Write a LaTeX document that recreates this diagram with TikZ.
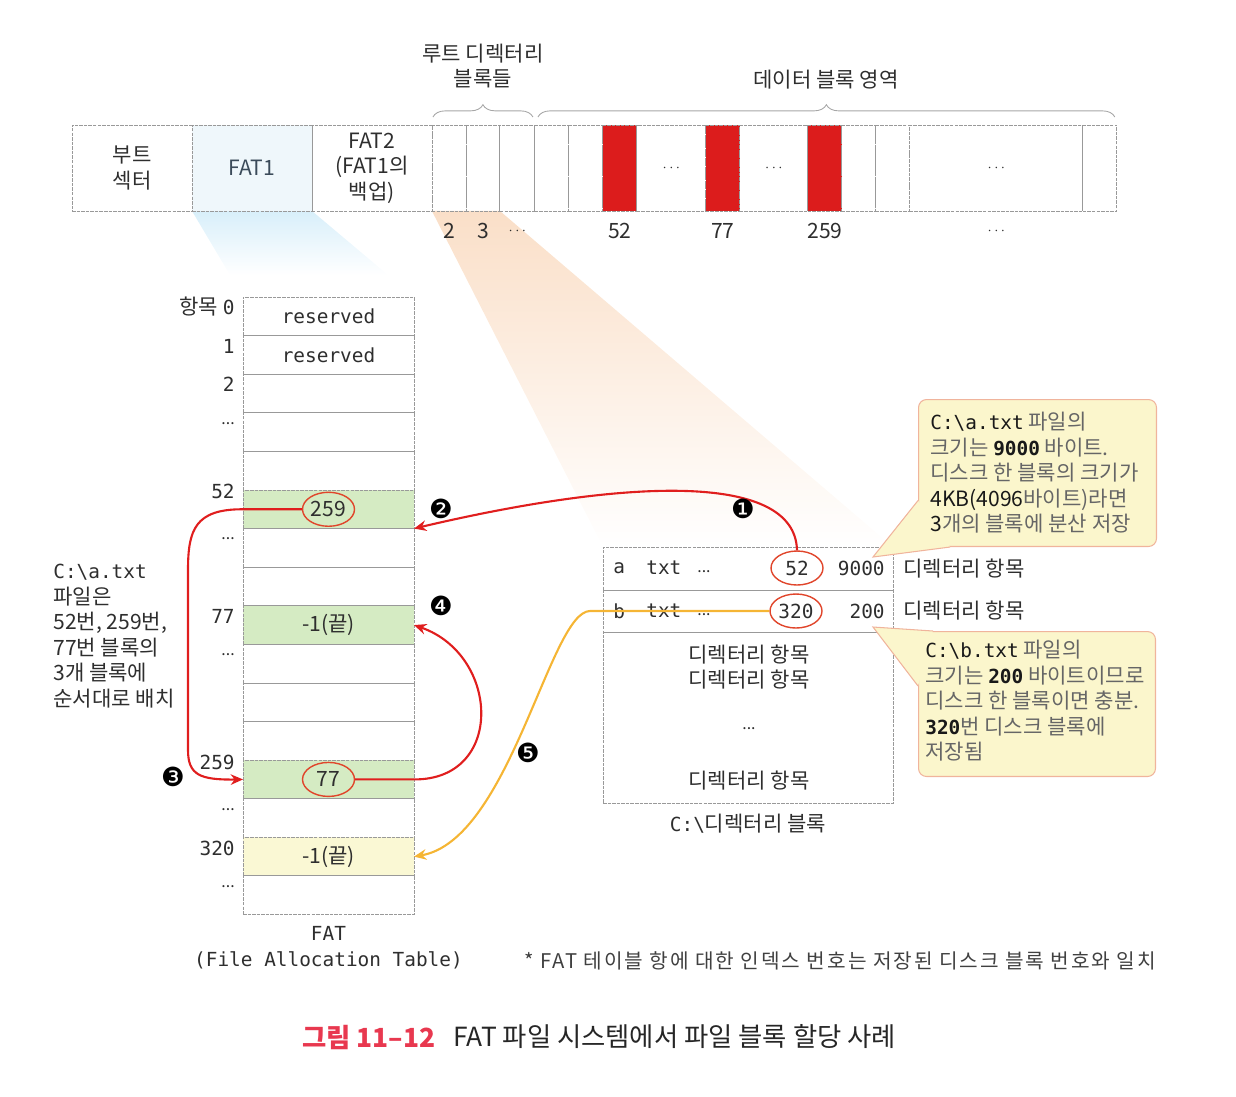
\documentclass[tikz,border=0pt]{standalone}
\usepackage{fontspec}
\setmainfont{Noto Sans CJK KR}
\newfontfamily\monofont{DejaVu Sans Mono}[Scale=0.92]
\newfontfamily\symfont{DejaVu Sans}
\usetikzlibrary{arrows.meta,positioning,shapes.geometric,decorations.pathreplacing,backgrounds}

\definecolor{inkgray}{HTML}{2E2E2E}
\definecolor{arrowred}{HTML}{E01E1E}
\definecolor{ringred}{HTML}{E0452B}
\definecolor{linegold}{HTML}{F5B534}
\definecolor{cellgreen}{HTML}{D5EBC3}
\definecolor{cellyellow}{HTML}{FAF8D4}
\definecolor{notefill}{HTML}{FBF6CC}
\definecolor{noteedge}{HTML}{F0B49C}
\definecolor{blockred}{HTML}{DC1C1C}
\definecolor{capred}{HTML}{E8384F}
\definecolor{fatblue}{HTML}{EFF7FB}
\definecolor{fatink}{HTML}{3B4B5A}
\definecolor{glowblue}{HTML}{D8EFFA}
\definecolor{gloworange}{HTML}{FADFC8}

\newcommand{\inkdark}[1]{{\color{black!90}#1}}
\newcommand{\midots}{{\fontsize{8}{8}\selectfont$\cdots$}}
\newcommand{\lowdots}{{\fontsize{9}{9}\selectfont ...}}

\begin{document}
\begin{tikzpicture}[x=0.02cm, y=-0.02cm, >={Stealth[length=7pt, width=6pt]},
font=\fontsize{12}{14.5}\selectfont, text=inkgray,
cell/.style={draw=black!40, dash pattern=on 2pt off 0.6pt, line width=0.5pt, inner sep=0pt, outer sep=0pt},
blk/.style={cell, minimum height=1.72cm, align=center},
fatrow/.style={cell, minimum width=3.42cm, minimum height=0.772cm},
dirrow/.style={cell, minimum width=5.8cm},
ring/.style={ellipse, draw=ringred, line width=0.8pt, inner sep=0pt, minimum width=1.04cm, minimum height=0.68cm},
plain/.style={inner sep=0pt},
rowlab/.style={plain, anchor=east},
badge/.style={plain, font=\symfont\fontsize{15}{15}\selectfont, text=black},
redline/.style={draw=arrowred, line width=1.2pt},
goldline/.style={draw=linegold, line width=1.2pt},
note/.style={draw=noteedge, fill=notefill, line width=0.6pt, rounded corners=0.16cm, anchor=north west},
notetext/.style={plain, align=left, anchor=west, text=black!60},
tail/.style={draw=noteedge, fill=notefill, line width=0.6pt},
]
\useasboundingbox (0,0) rectangle (1236,1096);

% Disk layout
\node[blk, minimum width=2.4cm] (boot) at (132,168) {부트\\섹터};
\node[blk, minimum width=2.4cm, fill=fatblue, text=fatink, right=0pt of boot] (fat1) {FAT1};
\node[blk, minimum width=2.4cm, right=0pt of fat1] (fat2) {FAT2\\(FAT1의\\백업)};
\node[blk, minimum width=0.68cm, right=0pt of fat2] (b1) {};
\node[blk, minimum width=0.68cm, right=0pt of b1] (b2) {};
\node[blk, minimum width=0.70cm, right=0pt of b2] (b3) {};
\node[blk, minimum width=0.68cm, right=0pt of b3] (b4) {};
\node[blk, minimum width=0.68cm, right=0pt of b4] (b5) {};
\node[blk, minimum width=0.68cm, fill=blockred, right=0pt of b5] (b6) {};
\node[blk, minimum width=1.38cm, right=0pt of b6] (b7) {\midots};
\node[blk, minimum width=0.68cm, fill=blockred, right=0pt of b7] (b8) {};
\node[blk, minimum width=1.36cm, right=0pt of b8] (b9) {\midots};
\node[blk, minimum width=0.68cm, fill=blockred, right=0pt of b9] (b10) {};
\node[blk, minimum width=0.68cm, right=0pt of b10] (b11) {};
\node[blk, minimum width=0.68cm, right=0pt of b11] (b12) {};
\node[blk, minimum width=3.46cm, right=0pt of b12] (b13) {\midots};
\node[blk, minimum width=0.68cm, right=0pt of b13] (b14) {};

% Block numbers
\node[plain, below=0.24cm of b1] (n2) {2};
\node[plain, below=0.24cm of b2] (n3) {3};
\node[plain] (n4) at (b3 |- n2) {\midots};
\node[plain, below=0.24cm of b6] (n52) {52};
\node[plain, below=0.24cm of b8] (n77) {77};
\node[plain, below=0.24cm of b10] (n259) {259};
\node[plain] (nend) at (b13 |- n2) {\midots};

% Braces
\draw[decorate, decoration={brace, amplitude=7pt}, draw=black!35, line width=0.5pt]
  ([xshift=0.02cm, yshift=0.16cm]b1.north west) -- ([xshift=-0.04cm, yshift=0.16cm]b3.north east);
\draw[decorate, decoration={brace, amplitude=7pt}, draw=black!35, line width=0.5pt]
  ([xshift=0.06cm, yshift=0.16cm]b4.north west) -- ([xshift=-0.04cm, yshift=0.16cm]b14.north east);
\node[plain, align=center] (rootlab) at (483,66) {루트 디렉터리\\블록들};
\node[plain] (datalab) at (826,80) {데이터 블록 영역};

% FAT table
\node[fatrow] (f0) at (328.5,316.3) {\monofont reserved};
\node[fatrow, below=0pt of f0] (f1) {\monofont reserved};
\node[fatrow, below=0pt of f1] (f2) {};
\node[fatrow, below=0pt of f2] (f3) {};
\node[fatrow, below=0pt of f3] (f4) {};
\node[fatrow, fill=cellgreen, below=0pt of f4] (f5) {};
\node[fatrow, below=0pt of f5] (f6) {};
\node[fatrow, below=0pt of f6] (f7) {};
\node[fatrow, fill=cellgreen, below=0pt of f7] (f8) {-1(끝)};
\node[fatrow, below=0pt of f8] (f9) {};
\node[fatrow, below=0pt of f9] (f10) {};
\node[fatrow, below=0pt of f10] (f11) {};
\node[fatrow, fill=cellgreen, below=0pt of f11] (f12) {};
\node[fatrow, below=0pt of f12] (f13) {};
\node[fatrow, fill=cellyellow, below=0pt of f13] (f14) {-1(끝)};
\node[fatrow, below=0pt of f14] (f15) {};
\node[ring] (r259) at (f5) {259};
\node[ring] (r77) at (f12) {77};
\node[plain, align=center, font=\monofont\fontsize{12}{14.5}\selectfont, below=0.24cm of f15] (fatcap) {FAT\\(File Allocation Table)};

% Row labels
\node[rowlab] (l0) at (235,307) {항목 {\monofont 0}};
\node[rowlab] (l1) at (235,346) {\monofont 1};
\node[rowlab] (l2) at (235,384) {\monofont 2};
\node[rowlab] (l3) at (235,424) {\lowdots};
\node[rowlab] (l52) at (235,491) {\monofont 52};
\node[rowlab] (l6) at (235,539) {\lowdots};
\node[rowlab] (l77) at (235,616) {\monofont 77};
\node[rowlab] (l9) at (235,655) {\lowdots};
\node[rowlab] (l259) at (235,762) {\monofont 259};
\node[rowlab] (l13) at (235,810) {\lowdots};
\node[rowlab] (l320) at (235,848) {\monofont 320};
\node[rowlab] (l15) at (235,887) {\lowdots};

\node[plain, align=left, anchor=north west] (story) at (53,564)
  {{\monofont C:\textbackslash a.txt}\\파일은\\52번, 259번,\\77번 블록의\\3개 블록에\\순서대로 배치};

% Directory block
\node[dirrow, minimum height=0.86cm] (da) at (748,568.5) {};
\node[dirrow, minimum height=0.84cm, below=0pt of da] (db) {};
\node[dirrow, minimum height=3.42cm, below=0pt of db] (dr) {};
\node[plain, anchor=west] (aname) at (613,568) {\monofont a};
\node[plain, anchor=west] (aext) at (646,568) {\monofont txt};
\node[plain, anchor=west] (adots) at (697,572) {\lowdots};
\node[ring] (r52) at (797,568) {\monofont 52};
\node[plain, anchor=east] (asize) at (885,568) {\monofont 9000};
\node[plain, anchor=west] (bname) at (613,611) {\monofont b};
\node[plain, anchor=west] (bext) at (646,611) {\monofont txt};
\node[plain, anchor=west] (bdots) at (697,615) {\lowdots};
\node[ring] (r320) at (796,611) {\monofont 320};
\node[plain, anchor=east] (bsize) at (885,611) {\monofont 200};
\node[plain, right=0.2cm of da.east] (dla) {디렉터리 항목};
\node[plain, right=0.2cm of db.east] (dlb) {디렉터리 항목};
\node[plain, align=center] (dr1) at (749,667) {디렉터리 항목\\디렉터리 항목};
\node[plain] (dr2) at (749,729) {\lowdots};
\node[plain] (dr3) at (749,781) {디렉터리 항목};
\node[plain, below=0.22cm of dr] (dircap) {{\monofont C:\textbackslash}디렉터리 블록};

% Notes
\node[note, minimum width=4.76cm, minimum height=2.94cm] (na) at (918,399) {};
\coordinate (tipa) at (873,557);
\filldraw[tail] ([yshift=-0.55cm]na.west) -- (tipa) -- ([xshift=0.64cm]na.south west);
\node[notetext] (nta) at ([xshift=0.24cm]na.west)
  {\inkdark{\monofont C:\textbackslash a.txt} 파일의\\
   크기는 \inkdark{\monofont\bfseries 9000} 바이트.\\
   디스크 한 블록의 크기가\\
   \inkdark{4KB(4096}바이트)라면\\
   \inkdark{3}개의 블록에 분산 저장};
\node[note, minimum width=4.74cm, minimum height=2.9cm] (nb) at (918,631) {};
\coordinate (tipb) at (873,627);
\filldraw[tail] ([xshift=0.3cm]nb.north west) -- (tipb) -- ([yshift=-1.1cm]nb.north west);
\node[notetext] (ntb) at ([xshift=0.14cm, yshift=0.06cm]nb.west)
  {\inkdark{\monofont C:\textbackslash b.txt} 파일의\\
   크기는 \inkdark{\monofont\bfseries 200} 바이트이므로\\
   디스크 한 블록이면 충분.\\
   \inkdark{\monofont\bfseries 320}번 디스크 블록에\\
   저장됨};

% Links
\draw[redline, ->] (r52.north) .. controls (795,470) and (620,480) .. (f5.south east);
\draw[redline, ->] (r259.west) -- (f5.west) .. controls (195,509) and (188,530) .. (188,570)
  -- (188,750) .. controls (188,775) and (200,780) .. (f12.west);
\draw[redline, ->] (r77.east) -- (f12.east) .. controls (505,780) and (500,655) .. (f8.east);
\draw[goldline, ->] (r320.west) -- ([xshift=-0.26cm]db.west) .. controls (550,611) and (510,840) .. (f14.east);

% Steps
\node[badge] (s1) at (743,509) {❶};
\node[badge] (s2) at (441,509) {❷};
\node[badge] (s3) at (173,777) {❸};
\node[badge] (s4) at (441,606) {❹};
\node[badge] (s5) at (528,753) {❺};

% Glow
\begin{scope}[on background layer]
\shade[top color=glowblue, bottom color=white] (fat1.south west) -- (fat1.south east) -- (388,275) -- (230,275) -- cycle;
\shade[top color=gloworange, middle color=gloworange!25, bottom color=white] (b1.south west) -- (b2.south east) -- (da.north east) -- (da.north west) -- cycle;
\end{scope}

% Footer
\node[plain, text=black!75] (foot) at (840,961) {\fontsize{11.5}{12}\selectfont\addfontfeature{LetterSpace=9.5}* FAT 테이블 항에 대한 인덱스 번호는 저장된 디스크 블록 번호와 일치};
\node[plain, anchor=west, text=capred] (figno) at (302,1037) {\fontsize{15}{17}\selectfont\bfseries 그림 11–12};
\node[plain, right=0.34cm of figno, text=black!85] (figtitle) {\fontsize{15}{17}\selectfont FAT 파일 시스템에서 파일 블록 할당 사례};

\end{tikzpicture}
\end{document}
